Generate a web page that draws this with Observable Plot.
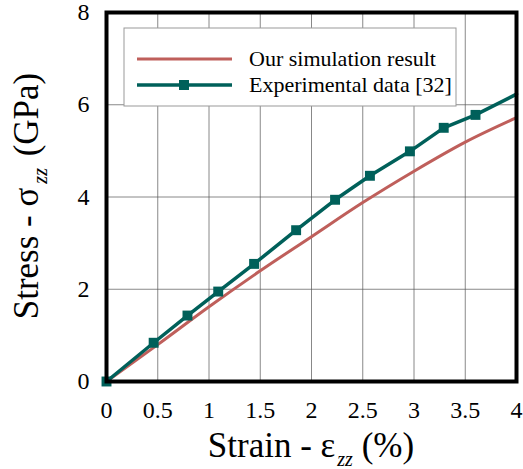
<!DOCTYPE html>
<html>
<head>
<meta charset="utf-8">
<script src="https://cdn.jsdelivr.net/npm/d3@7"></script>
<script src="https://cdn.jsdelivr.net/npm/@observablehq/plot@0.6"></script>
<style>
  html, body { margin: 0; padding: 0; background: #fff; }
  svg { display: block; }
  #chart svg, #chart svg text { font-family: "Liberation Serif", "Times New Roman", serif !important; }
</style>
</head>
<body>
<div id="chart"></div>
<script>
// ---- data ----
const simStrain = [0, 0.5, 1.0, 1.5, 2.0, 2.5, 3.0, 3.5, 4.0];
const simStress = [0, 0.80, 1.62, 2.40, 3.14, 3.88, 4.56, 5.19, 5.72];

const expStrain = [0, 0.46, 0.79, 1.09, 1.44, 1.85, 2.23, 2.57, 2.96, 3.29, 3.60, 4.00];
const expStress = [0, 0.84, 1.43, 1.95, 2.55, 3.28, 3.94, 4.46, 4.99, 5.50, 5.78, 6.23];
const expHasMarker = [true, true, true, true, true, true, true, true, true, true, true, false];

const xTicks = [0, 0.5, 1, 1.5, 2, 2.5, 3, 3.5, 4];
const yTicks = [0, 2, 4, 6, 8];

const seriesNames = ["Our simulation result", "Experimental data [32]"];
const seriesColors = ["#bf5f5b", "#00605a"];

const sim = simStrain.map((x, i) => ({x, y: simStress[i]}));
const exp = expStrain.map((x, i) => ({x, y: expStress[i], m: expHasMarker[i]}));

const serif = "Liberation Serif, Times New Roman, serif";

const plot = Plot.plot({
  width: 523,
  height: 469,
  marginLeft: 106,
  marginRight: 7,
  marginTop: 12,
  marginBottom: 88,
  style: {fontFamily: serif, background: "#fff", color: "#000"},
  x: {domain: [0, 4], ticks: xTicks, tickFormat: d => String(d), label: null},
  y: {domain: [0, 8], ticks: yTicks, tickFormat: d => String(d), label: null},
  marks: [
    Plot.gridX(xTicks, {stroke: "#555", strokeOpacity: 0.7, strokeWidth: 1}),
    Plot.gridY(yTicks, {stroke: "#555", strokeOpacity: 0.7, strokeWidth: 1}),
    Plot.axisX({ticks: xTicks, tickSize: 0, tickPadding: 19, fontSize: 24, tickFormat: d => String(d)}),
    Plot.axisY({ticks: yTicks, tickSize: 0, tickPadding: 17, fontSize: 24, tickFormat: d => String(d)}),
    Plot.line(sim, {x: "x", y: "y", stroke: seriesColors[0], strokeWidth: 3, curve: "monotone-x"}),
    Plot.line(exp, {x: "x", y: "y", stroke: seriesColors[1], strokeWidth: 3.5}),
    Plot.dot(exp.filter(d => d.m), {x: "x", y: "y", symbol: "square", r: 5.6, fill: seriesColors[1], stroke: "none"}),
    Plot.frame({stroke: "#000", strokeWidth: 4})
  ]
});

document.getElementById("chart").appendChild(plot);

const svg = d3.select(plot);

// legend box
const lg = svg.append("g").attr("text-anchor", "start");
lg.append("rect").attr("x", 124).attr("y", 28).attr("width", 332).attr("height", 78)
  .attr("fill", "#fff").attr("stroke", "#999").attr("stroke-width", 1);
const rows = [59, 85];
seriesNames.forEach((name, i) => {
  lg.append("line").attr("x1", 137).attr("x2", 232).attr("y1", rows[i]).attr("y2", rows[i])
    .attr("stroke", seriesColors[i]).attr("stroke-width", i === 0 ? 3 : 3.5);
  if (i === 1) {
    lg.append("rect").attr("x", 184 - 5).attr("y", rows[i] - 5).attr("width", 10).attr("height", 10)
      .attr("fill", seriesColors[i]);
  }
  lg.append("text").attr("x", 249).attr("y", rows[i] + 7).attr("text-anchor", "start")
    .attr("font-family", serif).attr("font-size", 22).attr("fill", "#000").text(name);
});

// x-axis title
const xt = svg.append("text").attr("x", 311).attr("y", 457)
  .attr("text-anchor", "middle").attr("font-family", serif).attr("font-size", 35).attr("fill", "#000");
xt.append("tspan").text("Strain - \u03b5");
xt.append("tspan").attr("font-size", 20).attr("font-style", "italic").attr("dx", 2).attr("dy", 9).text("zz");
xt.append("tspan").attr("dy", -9).text(" (%)");

// y-axis title
const yt = svg.append("text").attr("transform", "translate(38,196) rotate(-90)")
  .attr("text-anchor", "middle").attr("font-family", serif).attr("font-size", 35).attr("fill", "#000");
yt.append("tspan").text("Stress - \u03c3");
yt.append("tspan").attr("font-size", 20).attr("font-style", "italic").attr("dx", 4).attr("dy", 9).text("zz");
yt.append("tspan").attr("dx", 3).attr("dy", -9).text(" (GPa)");
</script>
</body>
</html>
